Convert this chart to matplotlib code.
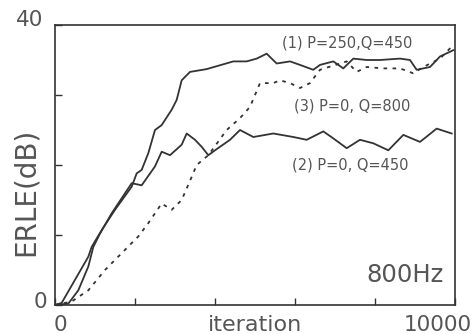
import matplotlib
matplotlib.use("Agg")
import matplotlib.pyplot as plt

# curve (1) P=250, Q=450
x1 = [0, 167, 500, 833, 917, 1167, 1500, 1917, 2042, 2167, 2333, 2500, 2667, 2917, 3042,
      3167, 3375, 3792, 4458, 4792, 5042, 5292, 5542, 5875, 6125, 6458, 6625, 6958, 7208,
      7458, 7792, 8125, 8625, 8875, 9042, 9375, 9625, 9958]
y1 = [0, 0.3, 3.6, 6.9, 8.3, 10.7, 13.6, 16.9, 18.8, 19.3, 21.7, 25.0, 25.7, 27.9, 29.3,
      32.1, 33.3, 33.7, 34.8, 34.8, 35.2, 35.9, 34.5, 34.8, 34.3, 33.6, 34.3, 34.8, 33.8,
      35.2, 35.0, 35.0, 35.2, 35.0, 33.6, 34.0, 35.5, 36.4]

# curve (2) P=0, Q=450
x2 = [0, 333, 583, 833, 958, 1125, 1417, 1917, 2167, 2500, 2667, 2875, 3167, 3292, 3500,
      3667, 3833, 4000, 4125, 4375, 4625, 4958, 5458, 5958, 6292, 6708, 6958, 7292, 7625,
      7958, 8333, 8708, 9125, 9542, 9917]
y2 = [0, 0.2, 2.1, 5.5, 8.3, 10.2, 13.1, 17.4, 17.1, 19.8, 21.9, 21.4, 22.9, 24.5, 23.6,
      22.6, 21.4, 22.1, 22.6, 23.6, 25.0, 24.0, 24.5, 24.0, 23.6, 24.8, 23.8, 22.4, 23.6,
      23.1, 22.1, 24.3, 23.3, 25.2, 24.5]

# curve (3) P=0, Q=800
x3 = [0, 417, 833, 1250, 1667, 2083, 2333, 2667, 2917, 3167, 3417, 3542, 3833, 4292, 4625,
      4875, 5125, 5458, 5625, 5875, 6125, 6375, 6625, 7292, 7542, 7792, 8208, 8625, 8958,
      9208, 9625, 9917]
y3 = [0, 0.5, 2.1, 5.0, 7.4, 9.8, 11.7, 14.5, 13.6, 15.0, 18.3, 20.0, 21.4, 25.0, 26.7,
      28.3, 31.7, 31.7, 32.1, 31.7, 31.0, 31.7, 33.6, 34.8, 33.3, 34.0, 33.8, 33.8, 33.1,
      34.0, 35.2, 36.9]

txt = "#555555"
ink = "#333333"

fig = plt.figure(figsize=(4.74, 3.34), dpi=100)
ax = fig.add_axes([55 / 474, 29 / 334, 400 / 474, 280 / 334])

ax.plot(x1, y1, color=ink, lw=1.3)
ax.plot(x2, y2, color=ink, lw=1.3)
ax.plot(x3, y3, color=ink, lw=1.3, linestyle=(0, (2, 3)))

ax.set_xlim(0, 10000)
ax.set_ylim(0, 40)
ax.set_xticks([0, 2000, 4000, 6000, 8000, 10000])
ax.set_yticks([0, 10, 20, 30, 40])
ax.set_xticklabels([])
ax.set_yticklabels([])
ax.tick_params(direction="in", length=5, color=ink, width=1)
for s in ax.spines.values():
    s.set_color(ink)
    s.set_linewidth(1.2)

# tick labels placed by hand
fig.text(30 / 474, 1 - 20 / 334, "40", fontsize=15.5, color=txt, ha="center", va="center")
fig.text(40 / 474, 1 - 302 / 334, "0", fontsize=15.5, color=txt, ha="center", va="center")
fig.text(60 / 474, 1 - 325 / 334, "0", fontsize=15.5, color=txt, ha="center", va="center")
fig.text(438 / 474, 1 - 325 / 334, "10000", fontsize=15.5, color=txt, ha="center", va="center")
fig.text(255 / 474, 1 - 325 / 334, "iteration", fontsize=16, color=txt, ha="center", va="center")
fig.text(26 / 474, 1 - 192 / 334, "ERLE(dB)", fontsize=20, color=txt, ha="center", va="center",
         rotation=90)

ax.text(8750, 4.3, "800Hz", fontsize=17.5, color=txt, ha="center", va="center")
ax.text(7300, 37.4, "(1) P=250,Q=450", fontsize=10.5, color=txt, ha="center", va="center")
ax.text(7430, 28.4, "(3) P=0, Q=800", fontsize=10.5, color=txt, ha="center", va="center")
ax.text(7375, 20.0, "(2) P=0, Q=450", fontsize=10.5, color=txt, ha="center", va="center")

fig.savefig("out.png", dpi=100)
